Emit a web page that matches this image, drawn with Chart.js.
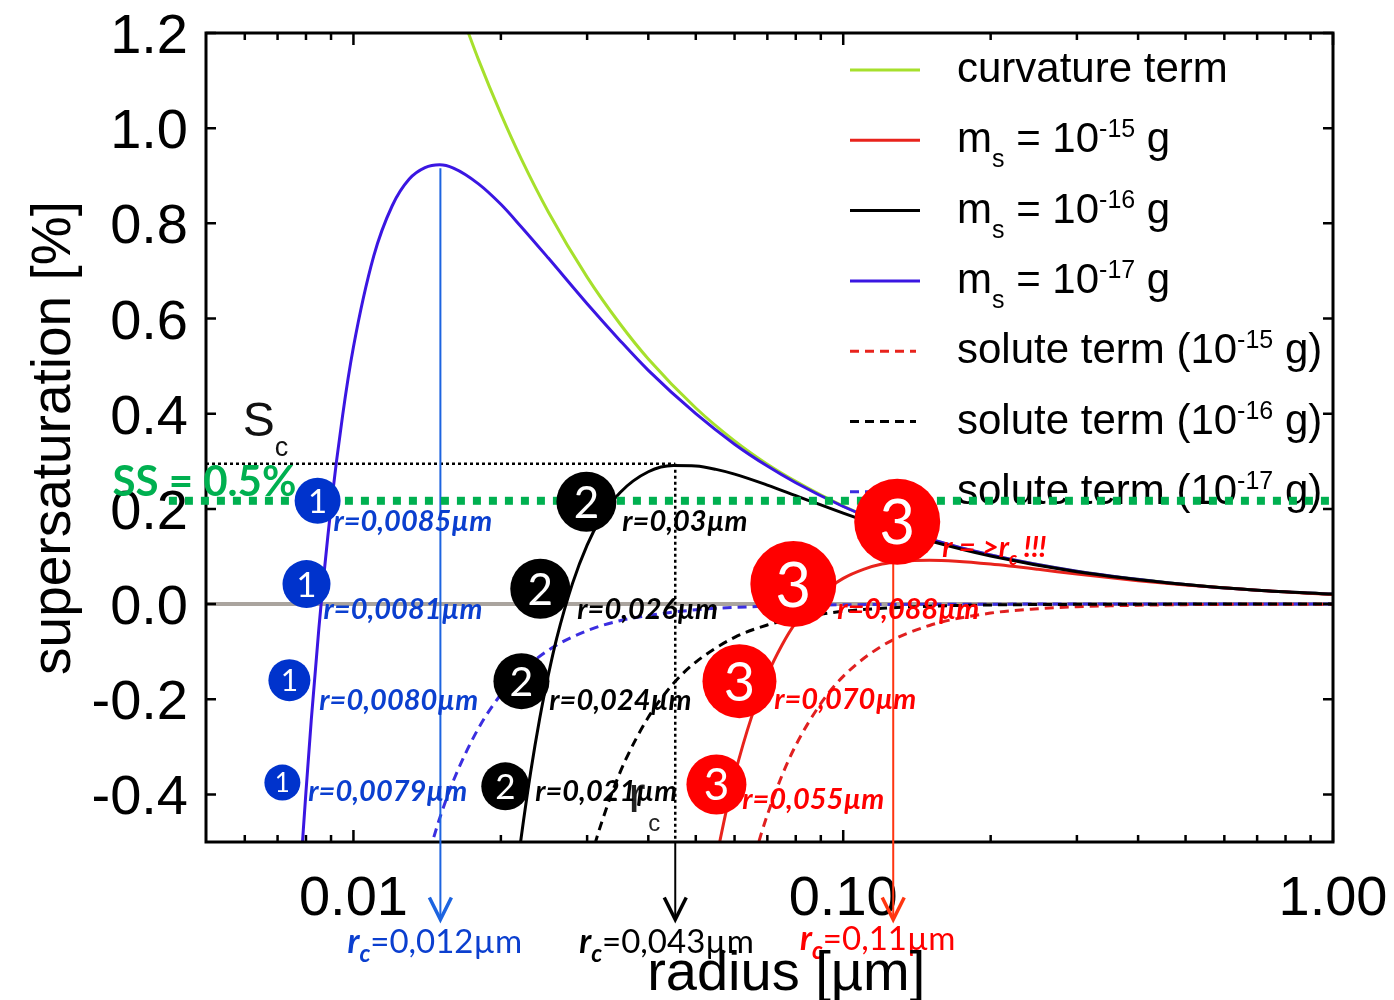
<!DOCTYPE html>
<html>
<head>
<meta charset="utf-8">
<script src="https://cdn.jsdelivr.net/npm/chart.js@4.4.1/dist/chart.umd.min.js"></script>
<style>
  html, body { margin: 0; padding: 0; background: #fff; }
  #wrap { width: 1394px; height: 1000px; }
</style>
</head>
<body>
<div id="wrap"><canvas id="kohler" width="1394" height="1000"></canvas></div>
<script>
// radius [µm] and supersaturation [%]
const rCurv = [0.0165, 0.017, 0.018, 0.02, 0.022, 0.025, 0.03, 0.035, 0.04, 0.05, 0.06, 0.07, 0.08, 0.1, 0.12, 0.15, 0.2, 0.3, 0.4, 0.5, 0.7, 1.0];
const sCurv = [1.248, 1.212, 1.144, 1.030, 0.936, 0.824, 0.687, 0.589, 0.515, 0.412, 0.343, 0.294, 0.258, 0.206, 0.172, 0.137, 0.103, 0.069, 0.052, 0.041, 0.029, 0.021];

const rM17 = [0.0078, 0.0079, 0.008, 0.0082, 0.0085, 0.009, 0.0095, 0.01, 0.011, 0.012, 0.013, 0.014, 0.015, 0.016, 0.018, 0.02, 0.022, 0.025, 0.03, 0.035, 0.04, 0.05, 0.06, 0.07, 0.08, 0.1, 0.12, 0.15, 0.2, 0.3, 0.5, 0.7, 1.0];
const sM17 = [-0.562, -0.475, -0.394, -0.245, -0.051, 0.204, 0.395, 0.540, 0.731, 0.837, 0.893, 0.917, 0.923, 0.916, 0.883, 0.840, 0.793, 0.727, 0.631, 0.554, 0.491, 0.400, 0.336, 0.290, 0.255, 0.205, 0.171, 0.137, 0.103, 0.069, 0.041, 0.029, 0.021];

const rM16 = [0.0215, 0.022, 0.023, 0.024, 0.025, 0.026, 0.028, 0.03, 0.032, 0.035, 0.04, 0.045, 0.05, 0.055, 0.06, 0.07, 0.08, 0.1, 0.12, 0.15, 0.2, 0.3, 0.5, 0.7, 1.0];
const sM16 = [-0.571, -0.491, -0.354, -0.241, -0.149, -0.072, 0.043, 0.124, 0.180, 0.234, 0.278, 0.291, 0.290, 0.283, 0.273, 0.250, 0.228, 0.191, 0.163, 0.133, 0.101, 0.068, 0.041, 0.029, 0.021];

const rM15 = [0.055, 0.056, 0.058, 0.06, 0.065, 0.07, 0.075, 0.08, 0.09, 0.1, 0.11, 0.12, 0.13, 0.15, 0.17, 0.2, 0.25, 0.3, 0.4, 0.5, 0.7, 1.0];
const sM15 = [-0.539, -0.498, -0.424, -0.360, -0.237, -0.149, -0.086, -0.039, 0.020, 0.054, 0.073, 0.084, 0.089, 0.092, 0.090, 0.084, 0.073, 0.063, 0.049, 0.040, 0.029, 0.020];

const rS17 = [0.0143, 0.0145, 0.0148, 0.015, 0.016, 0.018, 0.02, 0.022, 0.025, 0.03, 0.035, 0.04, 0.05, 0.06, 0.08, 0.1, 0.15, 0.2, 0.5, 1.0];
const sS17 = [-0.520, -0.499, -0.469, -0.450, -0.371, -0.261, -0.190, -0.143, -0.097, -0.056, -0.035, -0.024, -0.012, -0.007, -0.003, -0.0015, -0.0005, -0.0002, 0, 0];

const rS16 = [0.0305, 0.031, 0.032, 0.034, 0.036, 0.04, 0.045, 0.05, 0.06, 0.07, 0.08, 0.1, 0.12, 0.15, 0.2, 0.3, 0.5, 1.0];
const sS16 = [-0.536, -0.510, -0.464, -0.387, -0.326, -0.238, -0.167, -0.122, -0.070, -0.044, -0.030, -0.015, -0.009, -0.0045, -0.0019, -0.0006, -0.0001, 0];

const rS15 = [0.066, 0.068, 0.07, 0.075, 0.08, 0.09, 0.1, 0.12, 0.15, 0.2, 0.25, 0.3, 0.4, 0.5, 0.7, 1.0];
const sS15 = [-0.529, -0.483, -0.443, -0.360, -0.297, -0.209, -0.152, -0.088, -0.045, -0.019, -0.0097, -0.0056, -0.0024, -0.0012, -0.0004, -0.0002];

// axis ticks
const xMajor = [0.01, 0.1, 1];
const xTickLabels = ['0.01', '0.10', '1.00'];
const xMinor = [0.006, 0.007, 0.008, 0.009, 0.02, 0.03, 0.04, 0.05, 0.06, 0.07, 0.08, 0.09, 0.2, 0.3, 0.4, 0.5, 0.6, 0.7, 0.8, 0.9];
const yTicks = [-0.4, -0.2, 0, 0.2, 0.4, 0.6, 0.8, 1.0, 1.2];

// levels marked in the figure
const ssLevel = 0.217;     // SS = 0.5% line
const scLevel = 0.295;     // S_c of the 10^-16 g curve
const rcBlue = 0.01505, rcBlack = 0.0454, rcRed = 0.1265;
const peakBlue = 0.916, startRed = 0.173;

// numbered markers: [radius, S, number]
const markers = [
  [0.00845, 0.217, '1'], [0.00802, 0.042, '1'], [0.0074, -0.16, '1'], [0.00716, -0.375, '1'],
  [0.0299, 0.215, '2'], [0.02407, 0.032, '2'], [0.02203, -0.162, '2'], [0.02042, -0.383, '2'],
  [0.1289, 0.173, '3'], [0.0791, 0.042, '3'], [0.0614, -0.162, '3'], [0.0551, -0.379, '3']
];
const markerSize = [23, 24, 21, 18, 30, 30, 28, 24, 43, 43, 37, 30];

// radius labels next to the markers: [radius, S, text, group]
const rLabels = [
  [0.0091, 0.173, 'r=0,0085µm', 1], [0.00869, -0.011, 'r=0,0081µm', 1], [0.00852, -0.204, 'r=0,0080µm', 1], [0.00809, -0.394, 'r=0,0079µm', 1],
  [0.0354, 0.173, 'r=0,03µm', 2], [0.02865, -0.011, 'r=0,026µm', 2], [0.02512, -0.204, 'r=0,024µm', 2], [0.0235, -0.394, 'r=0,021µm', 2],
  [0.0972, -0.011, 'r=0,088µm', 3], [0.0723, -0.2, 'r=0,070µm', 3], [0.0622, -0.411, 'r=0,055µm', 3]
];
const rcLabels = [[0.00972, -0.733, '=0,012µm', 1], [0.0289, -0.733, '=0,043µm', 2], [0.0816, -0.726, '=0,11µm', 3]];

const GREEN = '#a6e02c', RED = '#e8231c', BLUE = '#3a16e2', BLUE_D = '#3b2ee0';
const groupColor = { 1: '#0b3fcf', 2: '#000000', 3: '#ff0000' };
const markerColor = { 1: '#0033cc', 2: '#000000', 3: '#ff0000' };
const AX = '"Liberation Sans", Arial, sans-serif';
const CAL = 'Lato, "Open Sans", sans-serif';

const pts = (rs, ss) => rs.map((r, i) => ({ x: r, y: ss[i] }));
const line = (label, rs, ss, color, dash) => ({
  label, data: pts(rs, ss), borderColor: color, borderWidth: 3,
  borderDash: dash || [], pointRadius: 0, fill: false, cubicInterpolationMode: 'monotone'
});

// rich text: segments of [text, font, dy]
function rich(ctx, x, y, segs, color) {
  ctx.fillStyle = color;
  ctx.textAlign = 'left';
  ctx.textBaseline = 'alphabetic';
  segs.forEach(([t, f, dy]) => {
    ctx.font = f;
    ctx.fillText(t, x, y + (dy || 0));
    x += ctx.measureText(t).width;
  });
}

const overlay = {
  id: 'overlay',
  beforeDatasetsDraw(chart) {
    const { ctx, chartArea: a, scales } = chart;
    const X = v => scales.x.getPixelForValue(v), Y = v => scales.y.getPixelForValue(v);
    ctx.save();
    // zero line
    ctx.strokeStyle = '#aaa49e';
    ctx.lineWidth = 4;
    ctx.beginPath(); ctx.moveTo(a.left, Y(0)); ctx.lineTo(a.right, Y(0)); ctx.stroke();
    // S_c dotted guide lines
    ctx.strokeStyle = '#000';
    ctx.lineWidth = 2.5;
    ctx.setLineDash([3, 3]);
    ctx.beginPath();
    ctx.moveTo(a.left, Y(scLevel)); ctx.lineTo(X(rcBlack), Y(scLevel));
    ctx.moveTo(X(rcBlack), Y(scLevel)); ctx.lineTo(X(rcBlack), a.bottom);
    ctx.stroke();
    ctx.setLineDash([]);
    ctx.restore();
  },
  afterDatasetsDraw(chart) {
    const { ctx, chartArea: a, scales } = chart;
    const X = v => scales.x.getPixelForValue(v), Y = v => scales.y.getPixelForValue(v);
    ctx.save();

    // frame and inward ticks
    ctx.strokeStyle = '#000';
    ctx.lineWidth = 3;
    ctx.strokeRect(a.left, a.top, a.right - a.left, a.bottom - a.top);
    ctx.lineWidth = 2.5;
    ctx.beginPath();
    xMajor.concat(xMinor).forEach(v => {
      const len = xMajor.includes(v) ? 12 : 7;
      ctx.moveTo(X(v), a.bottom); ctx.lineTo(X(v), a.bottom - len);
      ctx.moveTo(X(v), a.top); ctx.lineTo(X(v), a.top + len);
    });
    yTicks.forEach(v => {
      ctx.moveTo(a.left, Y(v)); ctx.lineTo(a.left + 10, Y(v));
      ctx.moveTo(a.right, Y(v)); ctx.lineTo(a.right - 10, Y(v));
    });
    ctx.stroke();

    // tick labels
    ctx.fillStyle = '#000';
    ctx.font = '56px ' + AX;
    ctx.textBaseline = 'alphabetic';
    ctx.textAlign = 'right';
    yTicks.forEach(v => ctx.fillText(v.toFixed(1), a.left - 18, Y(v) + 20));
    ctx.textAlign = 'center';
    xMajor.forEach((v, i) => ctx.fillText(xTickLabels[i], X(v), a.bottom + 73));

    // axis titles
    ctx.font = '55px ' + AX;
    ctx.save();
    ctx.translate(70, 438);
    ctx.rotate(-Math.PI / 2);
    ctx.fillText('supersaturation [%]', 0, 0);
    ctx.restore();

    // legend
    const legend = [
      [GREEN, [], [['curvature term', 0]]],
      [RED, [], [['m', 0], ['s', 1], [' = 10', 0], ['-15', -1], [' g', 0]]],
      ['#000', [], [['m', 0], ['s', 1], [' = 10', 0], ['-16', -1], [' g', 0]]],
      [BLUE, [], [['m', 0], ['s', 1], [' = 10', 0], ['-17', -1], [' g', 0]]],
      [RED, [9, 6], [['solute term (10', 0], ['-15', -1], [' g)', 0]]],
      ['#000', [9, 6], [['solute term (10', 0], ['-16', -1], [' g)', 0]]],
      [BLUE_D, [9, 6], [['solute term (10', 0], ['-17', -1], [' g)', 0]]]
    ];
    legend.forEach(([color, dash, segs], i) => {
      const ly = a.top + 37 + i * 70.3;
      ctx.strokeStyle = color;
      ctx.lineWidth = 3;
      ctx.setLineDash(dash);
      ctx.beginPath(); ctx.moveTo(850, ly); ctx.lineTo(dash.length ? 916 : 920, ly); ctx.stroke();
      ctx.setLineDash([]);
      rich(ctx, 957, ly + 12, segs.map(([t, k]) => [t, k ? '25px ' + AX : '42px ' + AX, k > 0 ? 15 : k < 0 ? -15 : 0]), '#000');
    });

    // S_c label and hidden r_c
    rich(ctx, X(0.00594), Y(0.354), [['S', '48px ' + AX], ['c', '27px ' + AX, 20]], '#111');
    rich(ctx, X(0.0364), Y(-0.436), [['r', '52px ' + AX]], '#222');
    rich(ctx, X(0.04), Y(-0.476), [['c', '24px ' + AX]], '#222');

    // arrows to the critical radii
    const tip = Y(-0.663);
    const arrow = (x, y0, color, w) => {
      ctx.strokeStyle = color;
      ctx.lineWidth = w;
      ctx.beginPath(); ctx.moveTo(x, y0); ctx.lineTo(x, tip); ctx.stroke();
      ctx.lineWidth = 3.5;
      ctx.beginPath(); ctx.moveTo(x - 11, tip - 22); ctx.lineTo(x, tip); ctx.lineTo(x + 11, tip - 22); ctx.stroke();
    };
    arrow(X(rcBlue), Y(peakBlue), '#1c64e0', 2);
    arrow(X(rcBlack), a.bottom, '#000', 2);
    arrow(X(rcRed), Y(startRed), '#ff3510', 2);

    // SS = 0.5% line
    ctx.strokeStyle = '#00b050';
    ctx.lineWidth = 8;
    ctx.setLineDash([8, 8]);
    ctx.beginPath(); ctx.moveTo(X(0.0042), Y(ssLevel)); ctx.lineTo(X(1.01), Y(ssLevel)); ctx.stroke();
    ctx.setLineDash([]);
    rich(ctx, X(0.00322), Y(0.227), [['SS = 0.5%', 'bold 42px ' + CAL]], '#00b050');

    // numbered markers
    markers.forEach(([r, s, n], i) => {
      const rad = markerSize[i];
      ctx.fillStyle = markerColor[n];
      ctx.beginPath(); ctx.arc(X(r), Y(s), rad, 0, Math.PI * 2); ctx.fill();
      ctx.fillStyle = '#fff';
      ctx.font = Math.round(rad * 1.45) + 'px ' + CAL;
      ctx.textAlign = 'center';
      ctx.textBaseline = 'middle';
      ctx.fillText(n, X(r), Y(s) + rad * 0.06);
    });

    // radius labels
    rLabels.forEach(([r, s, t, g]) => {
      ctx.fillStyle = groupColor[g];
      ctx.font = 'italic bold 29px ' + CAL;
      ctx.textAlign = 'left';
      ctx.textBaseline = 'middle';
      ctx.fillText(t, X(r), Y(s));
    });
    rich(ctx, X(0.1592), Y(0.12) + 10, [['r = >r', 'italic bold 29px ' + CAL], ['c', 'italic bold 18px ' + CAL, 8], [' !!!', 'italic bold 29px ' + CAL]], '#ff0000');

    // critical radius labels under the axis
    rcLabels.forEach(([r, s, t, g]) => {
      rich(ctx, X(r), Y(s), [['r', 'italic bold 34px ' + CAL], ['c', 'italic bold 24px ' + CAL, 9], [t, '33px ' + CAL]], groupColor[g]);
    });

    ctx.fillStyle = '#000';
    ctx.font = '56px ' + AX;
    ctx.textAlign = 'center';
    ctx.textBaseline = 'alphabetic';
    ctx.fillText('radius [µm]', (X(0.0454) + X(0.1265)) / 2 + 2, 990);
    ctx.restore();
  }
};

new Chart(document.getElementById('kohler'), {
  type: 'line',
  data: {
    datasets: [
      line('m_s = 10^-16 g', rM16, sM16, '#000'),
      line('m_s = 10^-15 g', rM15, sM15, RED),
      line('m_s = 10^-17 g', rM17, sM17, BLUE),
      line('curvature term', rCurv, sCurv, GREEN),
      line('solute term (10^-16 g)', rS16, sS16, '#000', [9, 6]),
      line('solute term (10^-15 g)', rS15, sS15, '#e02020', [9, 6]),
      line('solute term (10^-17 g)', rS17, sS17, BLUE_D, [9, 6])
    ]
  },
  options: {
    responsive: false,
    devicePixelRatio: 1,
    animation: false,
    layout: { padding: { left: 206, right: 61, top: 33, bottom: 158 } },
    scales: {
      x: { type: 'logarithmic', min: 0.005, max: 1, display: false },
      y: { type: 'linear', min: -0.5, max: 1.2, display: false }
    },
    plugins: { legend: { display: false }, tooltip: { enabled: false } }
  },
  plugins: [overlay]
});
</script>
</body>
</html>
